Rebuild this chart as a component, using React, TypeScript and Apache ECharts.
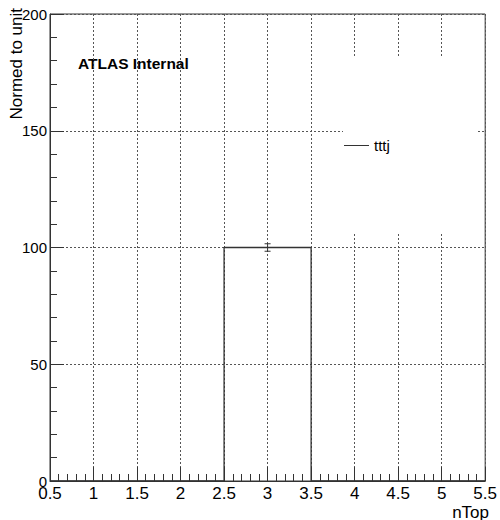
import React, { useEffect, useRef } from "react";
import * as echarts from "echarts";

const binEdges = [0.5, 1.5, 2.5, 3.5, 4.5, 5.5];
const binValues = [0, 0, 100, 0, 0];
const binErrors = [0, 0, 1.6, 0, 0];
const seriesName = "tttj";
const xTitle = "nTop";
const yTitle = "Normed to unit";
const labelText = "ATLAS Internal";

const FONT = "'Liberation Sans', Arial, Helvetica, sans-serif";

export default function App() {
  const ref = useRef<HTMLDivElement>(null);
  useEffect(() => {
    if (!ref.current) return;
    const chart = echarts.init(ref.current, undefined, { renderer: "svg" });
    const stepData = binEdges.map((e, i) => [
      e,
      i < binValues.length ? binValues[i] : binValues[binValues.length - 1],
    ]);
    const errData = binValues
      .map((v, i) => [(binEdges[i] + binEdges[i + 1]) / 2, v, binErrors[i]])
      .filter((d) => d[1] > 0);
    const gridLine = { show: true, lineStyle: { color: "#555", type: [2, 2], width: 1 } };
    chart.setOption({
      animation: false,
      backgroundColor: "#fff",
      textStyle: { fontFamily: FONT },
      grid: {
        left: 50,
        right: 13,
        top: 14,
        bottom: 39,
        show: true,
        borderColor: "#333",
        borderWidth: 1,
        backgroundColor: "transparent",
      },
      legend: {
        data: [{ name: seriesName, icon: "rect" }],
        left: 343,
        top: 58,
        orient: "vertical",
        itemWidth: 25,
        itemHeight: 1,
        padding: [80, 87, 80, 1],
        backgroundColor: "#fff",
        textStyle: { fontSize: 15, color: "#000", fontFamily: FONT },
        selectedMode: false,
      },
      xAxis: {
        type: "value",
        min: 0.5,
        max: 5.5,
        interval: 0.5,
        axisLine: { show: true, lineStyle: { color: "#333", width: 1 } },
        axisTick: { show: true, inside: true, length: 14, lineStyle: { color: "#333" } },
        minorTick: { show: true, splitNumber: 5, length: 7, lineStyle: { color: "#333" } },
        splitLine: gridLine,
        axisLabel: {
          fontSize: 17,
          color: "#000",
          margin: 4,
          fontFamily: FONT,
          showMinLabel: true,
          showMaxLabel: true,
        },
      },
      yAxis: {
        type: "value",
        min: 0,
        max: 200,
        interval: 50,
        axisLine: { show: true, lineStyle: { color: "#333", width: 1 } },
        axisTick: { show: true, inside: true, length: 14, lineStyle: { color: "#333" } },
        minorTick: { show: true, splitNumber: 5, length: 7, lineStyle: { color: "#333" } },
        splitLine: gridLine,
        axisLabel: {
          fontSize: 15,
          color: "#000",
          margin: 3,
          fontFamily: FONT,
          showMinLabel: true,
          showMaxLabel: true,
        },
      },
      graphic: [
        {
          type: "text",
          x: 78,
          y: 63,
          style: {
            text: labelText,
            font: `bold 15.5px ${FONT}`,
            fill: "#000",
            verticalAlign: "middle",
            align: "left",
          },
        },
        {
          type: "text",
          x: 489,
          y: 512,
          style: {
            text: xTitle,
            font: `17px ${FONT}`,
            fill: "#000",
            verticalAlign: "middle",
            align: "right",
          },
        },
        {
          type: "text",
          x: 16,
          y: 8,
          rotation: Math.PI / 2,
          style: {
            text: yTitle,
            font: `17px ${FONT}`,
            fill: "#000",
            verticalAlign: "middle",
            align: "right",
          },
        },
      ],
      series: [
        {
          name: seriesName,
          type: "line",
          step: "end",
          data: stepData,
          symbol: "none",
          color: "#333",
          lineStyle: { color: "#333", width: 1.3 },
          itemStyle: { color: "#333" },
          silent: true,
          z: 3,
        },
        {
          type: "custom",
          data: errData,
          encode: { x: 0, y: 1 },
          silent: true,
          z: 4,
          renderItem: (params: any, api: any) => {
            const x = api.value(0);
            const y = api.value(1);
            const e = api.value(2);
            const top = api.coord([x, y + e]);
            const bot = api.coord([x, y - e]);
            const style = { stroke: "#333", lineWidth: 1 };
            return {
              type: "group",
              children: [
                { type: "line", shape: { x1: top[0], y1: top[1], x2: bot[0], y2: bot[1] }, style },
                { type: "line", shape: { x1: top[0] - 3, y1: top[1], x2: top[0] + 3, y2: top[1] }, style },
                { type: "line", shape: { x1: bot[0] - 3, y1: bot[1], x2: bot[0] + 3, y2: bot[1] }, style },
              ],
            };
          },
        },
      ],
    });
    return () => chart.dispose();
  }, []);
  return (
    <div
      ref={ref}
      style={{ position: "fixed", left: 0, top: 0, width: 500, height: 520 }}
    />
  );
}
